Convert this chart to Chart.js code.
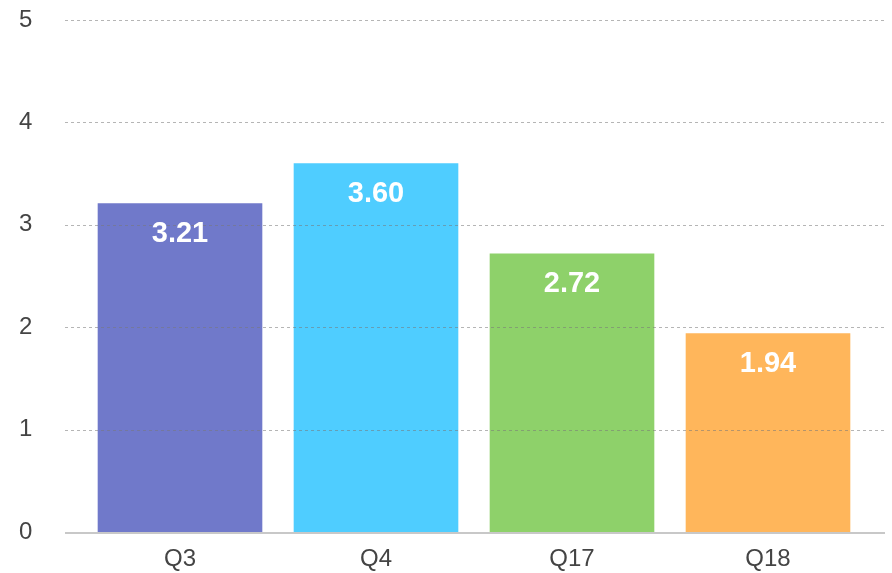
<!DOCTYPE html>
<html>
<head>
<meta charset="utf-8">
<script src="https://cdn.jsdelivr.net/npm/chart.js@4"></script>
<style>
    html, body { margin: 0; padding: 0; background: #fff; }
    #wrap { width: 892px; height: 573px; }
</style>
</head>
<body>
<div id="wrap"><canvas id="chart"></canvas></div>
<script>
const categories = ['Q3', 'Q4', 'Q17', 'Q18'];
const values = [3.21, 3.60, 2.72, 1.94];
const barColors = ['#7079ca', '#4fcdff', '#8ed16a', '#ffb65b'];
const yTicks = [0, 1, 2, 3, 4, 5];

const FONT = '"Liberation Sans", Arial, sans-serif';

// dashed grid drawn over the bars, a bit wider than the plot area
const gridOnTop = {
    id: 'gridOnTop',
    afterDatasetsDraw(chart) {
        const { ctx, chartArea, scales } = chart;
        const left = chartArea.left - 17;
        const right = chartArea.right + 19;
        ctx.save();
        yTicks.forEach(v => {
            const y = Math.round(scales.y.getPixelForValue(v));
            ctx.beginPath();
            if (v === 0) {
                ctx.setLineDash([]);
                ctx.strokeStyle = '#c8c8c8';
                ctx.lineWidth = 2;
            } else {
                ctx.setLineDash([3, 3]);
                ctx.strokeStyle = 'rgba(120, 120, 120, 0.55)';
                ctx.lineWidth = 1;
            }
            const yy = v === 0 ? y + 1 : y + 0.5;
            ctx.moveTo(left, yy);
            ctx.lineTo(right, yy);
            ctx.stroke();
        });
        ctx.restore();
    }
};

// value labels inside the top of each bar
const valueLabels = {
    id: 'valueLabels',
    afterDraw(chart) {
        const { ctx } = chart;
        const meta = chart.getDatasetMeta(0);
        ctx.save();
        ctx.fillStyle = '#ffffff';
        ctx.font = 'bold 29px ' + FONT;
        ctx.textAlign = 'center';
        ctx.textBaseline = 'middle';
        meta.data.forEach((bar, i) => {
            ctx.fillText(values[i].toFixed(2), bar.x, bar.y + 31);
        });
        ctx.restore();
    }
};

new Chart(document.getElementById('chart'), {
    type: 'bar',
    data: {
        labels: categories,
        datasets: [{
            data: values,
            backgroundColor: barColors,
            borderWidth: 0,
            categoryPercentage: 0.84,
            barPercentage: 1.0
        }]
    },
    options: {
        responsive: true,
        maintainAspectRatio: false,
        animation: false,
        layout: { padding: { left: 19, right: 26, top: 20, bottom: 0 } },
        plugins: {
            legend: { display: false },
            tooltip: { enabled: false }
        },
        scales: {
            x: {
                afterFit(axis) {
                    axis.height = 41;
                },
                grid: { display: false, drawTicks: false },
                border: { display: false },
                ticks: {
                    color: '#444',
                    padding: 13,
                    font: { family: FONT, size: 24 }
                }
            },
            y: {
                min: 0,
                max: 5,
                afterBuildTicks(axis) {
                    axis.ticks = yTicks.map(v => ({ value: v }));
                },
                afterFit(axis) {
                    axis.width = 63;
                },
                grid: { display: false, drawTicks: false },
                border: { display: false },
                ticks: {
                    color: '#444',
                    padding: 0,
                    crossAlign: 'far',
                    font: { family: FONT, size: 24 }
                }
            }
        }
    },
    plugins: [gridOnTop, valueLabels]
});
</script>
</body>
</html>
